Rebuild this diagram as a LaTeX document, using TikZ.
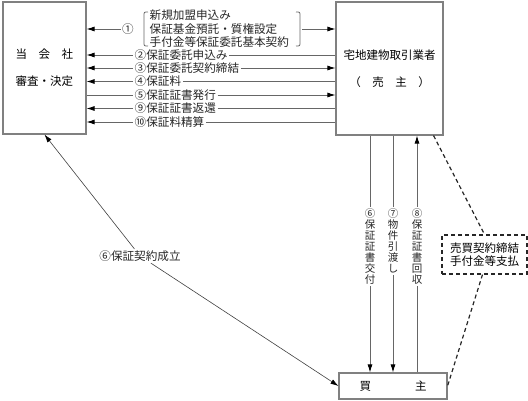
\documentclass[tikz,border=0pt]{standalone}
\usepackage{fontspec}
\setmainfont{Noto Sans CJK JP}
\usetikzlibrary{arrows.meta,positioning}

\begin{document}
\begin{tikzpicture}[x=1pt,y=-1pt,
  line/.style={draw=black!60,line width=0.8pt},
  tip/.style={line,-{Latex[length=8pt,width=5pt,black]}},
  box/.style={draw=black!50,line width=1.1pt,font=\fontsize{11.5}{13}\selectfont,align=center},
  lbl/.style={font=\fontsize{11.6}{13.4}\selectfont,inner sep=1.5pt,text=black!85},
  vlbl/.style={font=\fontsize{10.5}{11}\selectfont,inner sep=1.5pt,align=center,anchor=north,text=black!85},
  dashline/.style={draw=black!85,line width=1.2pt,dash pattern=on 4pt off 3pt}]

  \useasboundingbox (0,0) rectangle (528,401);

  % parties
  \node[box,minimum width=83pt,minimum height=132pt] (co) at (44.5,68) {当　会　社\\[14pt]審査・決定};
  \node[box,minimum width=107pt,minimum height=133pt] (sel) at (389.5,68.5) {宅地建物取引業者\\[14pt]（　売　主　）};
  \node[box,minimum width=108pt,minimum height=26pt] (buy) at (393,386) {買\hspace{44pt}主};
  \node[box,dashline,minimum width=85pt,minimum height=39pt,inner sep=2pt] (dbox) at (484.5,254.5) {売買契約締結\\手付金等支払};

  % (1)
  \node[lbl] (c1) at (128,29) {①};
  \node[lbl,align=left,anchor=west] (b1) at (148,29) {新規加盟申込み\\保証基金預託・質権設定\\手付金等保証委託基本契約};
  \draw[line] (148,12) .. controls (144,12) .. (144,16) -- (144,42) .. controls (144,46) .. (148,46);
  \draw[line] (296,12) .. controls (300,12) .. (300,16) -- (300,42) .. controls (300,46) .. (296,46);
  \coordinate (rb) at (302,29);
  \draw[tip] (c1) -- (co.east |- c1);
  \draw[tip] (rb) -- (sel.west |- rb);

  % rows
  \node[lbl,anchor=west] (l2) at (133,55) {②保証委託申込み};
  \node[lbl,anchor=west] (l3) at (133,68) {③保証委託契約締結};
  \node[lbl,anchor=west] (l4) at (133,81.5) {④保証料};
  \node[lbl,anchor=west] (l5) at (133,95) {⑤保証証書発行};
  \node[lbl,anchor=west] (l9) at (133,108.5) {⑨保証証書返還};
  \node[lbl,anchor=west] (l10) at (133,122) {⑩保証料精算};

  \draw[tip] (l2.west) -- (co.east |- l2);
  \draw[line] (l2.east) -- (sel.west |- l2);
  \draw[tip] (l3.west) -- (co.east |- l3);
  \draw[tip] (l3.east) -- (sel.west |- l3);
  \draw[tip] (l4.west) -- (co.east |- l4);
  \draw[line] (l4.east) -- (sel.west |- l4);
  \draw[line] (l5.west) -- (co.east |- l5);
  \draw[tip] (l5.east) -- (sel.west |- l5);
  \draw[tip] (l9.west) -- (co.east |- l9);
  \draw[line] (l9.east) -- (sel.west |- l9);
  \draw[tip] (l10.west) -- (co.east |- l10);
  \draw[line] (l10.east) -- (sel.west |- l10);

  % seller - buyer
  \node[vlbl] (v6) at (370,207) {⑥\\保\\証\\証\\書\\交\\付};
  \node[vlbl] (v7) at (393,207) {⑦\\物\\件\\引\\渡\\し};
  \node[vlbl] (v8) at (417,207) {⑧\\保\\証\\証\\書\\回\\収};
  \draw[line] (sel.south -| v6) -- (v6.north);
  \draw[tip] (v6.south) -- (buy.north -| v6);
  \draw[line] (sel.south -| v7) -- (v7.north);
  \draw[tip] (v7.south) -- (buy.north -| v7);
  \draw[line] (buy.north -| v8) -- (v8.south);
  \draw[tip] (v8.north) -- (sel.south -| v8);

  % contract
  \coordinate (s1) at ([xshift=-10pt]sel.south east);
  \draw[dashline] (s1) -- (dbox.north);
  \draw[dashline] ([xshift=-2pt]dbox.south) -- (buy.east);

  % company - buyer
  \node[lbl] (l6) at (140,256) {⑥保証契約成立};
  \draw[tip,line width=0.6pt,draw=black!75] (l6) -- (co.south);
  \draw[tip,line width=0.6pt,draw=black!75] (l6) -- (buy.west);
\end{tikzpicture}
\end{document}
